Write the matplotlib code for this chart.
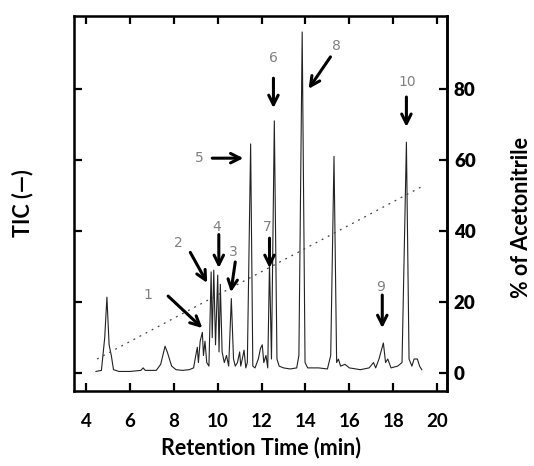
import matplotlib
matplotlib.use('Agg')
import matplotlib.pyplot as plt

# chromatogram trace (retention time in min, TIC on a 0-100 relative scale)
time = [4.45, 4.7, 4.85, 4.95, 5.05, 5.15, 5.25, 5.5, 6.0, 6.5, 6.6, 6.7, 7.2, 7.4, 7.6, 7.7, 7.9, 8.1,
        8.4, 8.7, 8.9, 9.0, 9.07, 9.12, 9.2, 9.3, 9.35, 9.42, 9.5, 9.6, 9.7, 9.75, 9.82, 9.9, 10.0, 10.06,
        10.12, 10.2, 10.3, 10.4, 10.5, 10.62, 10.72, 10.8, 10.9, 11.0, 11.05, 11.12, 11.2, 11.28, 11.35,
        11.5, 11.6, 11.7, 11.85, 11.95, 12.03, 12.1, 12.2, 12.28, 12.36, 12.45, 12.58, 12.7, 12.8, 13.0,
        13.3, 13.6, 13.7, 13.85, 13.98, 14.1, 14.6, 15.0, 15.15, 15.3, 15.42, 15.5, 15.6, 15.8, 16.0, 16.5,
        16.9, 17.1, 17.2, 17.35, 17.55, 17.65, 17.75, 17.9, 18.2, 18.4, 18.6, 18.72, 18.85, 18.95, 19.1,
        19.2, 19.3]
tic = [0.5, 0.8, 10, 21.4, 8, 5, 1, 0.5, 0.5, 0.8, 1.5, 0.8, 0.8, 2.5, 7.6, 6, 2, 1,
       0.8, 1, 1.5, 5, 7.3, 3, 9, 11.5, 5, 9, 3, 2, 28.5, 10, 29, 8, 27.6, 6,
       25, 6, 3, 5, 2, 21, 4, 2, 3, 6, 2, 4, 6.5, 1.5, 3,
       64.5, 2, 1.5, 4, 7, 8, 3, 5, 1.5, 31, 4, 71, 4, 2, 1.5,
       1.2, 1.5, 5, 96, 3, 1.5, 1.5, 1.2, 5, 61, 3, 4, 2, 2.5, 1.5, 1,
       1.5, 3, 1.5, 4, 8.5, 3, 4, 1.5, 2, 3, 65, 4, 2, 4, 4,
       2, 1]

# acetonitrile gradient (dashed line)
grad_time = [4.5, 19.3]
grad_acn = [4, 52.5]

# peak labels: number, text position, arrow start, arrow tip
peak_names = ['1', '2', '3', '4', '5', '6', '7', '8', '9', '10']
label_xy = [(6.83, 22), (8.2, 36.6), (10.7, 34), (9.94, 41), (9.16, 60.5),
            (12.54, 88.7), (12.26, 41), (15.4, 92), (17.4, 24.2), (18.66, 82)]
arrow_from = [(7.74, 21.7), (8.75, 34), (10.8, 31.3), (10.05, 39), (9.75, 60.5),
              (12.54, 83), (12.36, 38), (15.14, 89), (17.5, 22), (18.6, 77.7)]
arrow_to = [(9.3, 12.7), (9.52, 25.4), (10.6, 22.8), (10.05, 29.6), (11.17, 60.5),
            (12.54, 74.6), (12.36, 29.6), (14.14, 80), (17.5, 12.7), (18.6, 69.3)]

x_ticks = [4, 6, 8, 10, 12, 14, 16, 18, 20]
y_ticks = [0, 20, 40, 60, 80]

plt.rcParams['font.family'] = ['Lato', 'DejaVu Sans']

fig = plt.figure(figsize=(5.34, 4.66), dpi=100)
ax = fig.add_axes([74 / 534, 1 - 391 / 466, 373 / 534, 375 / 466])

ax.plot(time, tic, color='#222222', lw=0.8)
ax.plot(grad_time, grad_acn, color='#444444', lw=0.9, ls=(0, (1.5, 4)))

for name, txy, a0, a1 in zip(peak_names, label_xy, arrow_from, arrow_to):
    ax.annotate('', xy=a1, xytext=a0,
                arrowprops=dict(arrowstyle='->', color='black', lw=2.2, mutation_scale=17,
                                shrinkA=0, shrinkB=0))
    ax.text(txy[0], txy[1], name, color='#808080', fontsize=10, ha='center', va='center',
            family='DejaVu Sans')

ax.set_xlim(3.45, 20.45)
ax.set_ylim(-5, 100.5)
ax.set_xticks(x_ticks)
ax.set_yticks(y_ticks)
ax.set_yticklabels([])
ax.tick_params(direction='in', length=6, width=1.6, top=True, right=True, labelsize=13.5, pad=16)
ax.tick_params(axis='y', left=True, right=False)
for lab in ax.get_xticklabels():
    lab.set_fontweight('bold')
for sp in ax.spines.values():
    sp.set_linewidth(1.8)

ax2 = ax.twinx()
ax2.set_ylim(-5, 100.5)
ax2.set_yticks(y_ticks)
ax2.tick_params(direction='in', length=6, width=1.6, labelsize=13.5, pad=5)
for lab in ax2.get_yticklabels():
    lab.set_fontweight('heavy')
ax2.spines['right'].set_linewidth(1.8)

fig.text(23 / 534, 1 - 203 / 466, 'TIC (—)', rotation=90, fontsize=15.5, fontweight='bold',
         ha='center', va='center')
fig.text(521 / 534, 1 - 218 / 466, '% of Acetonitrile', rotation=90, fontsize=15.5,
         fontweight='bold', ha='center', va='center')
fig.text(261 / 534, 1 - 448 / 466, 'Retention Time (min)', fontsize=15.5, fontweight='bold',
         ha='center', va='center')

fig.savefig('out.png', dpi=100)
